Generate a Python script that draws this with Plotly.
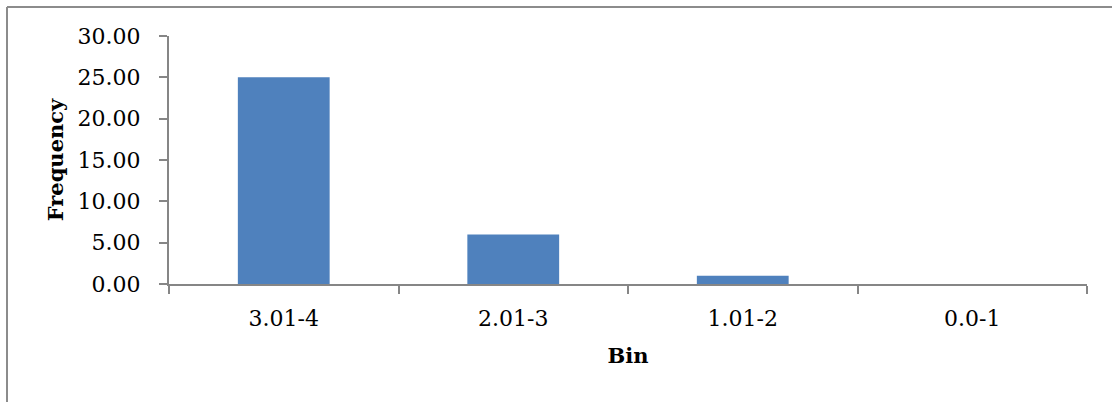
import plotly.graph_objects as go

# Frequency table
bins = ["3.01-4", "2.01-3", "1.01-2", "0.0-1"]
frequency = [25, 6, 1, 0]
y_ticks = [0, 5, 10, 15, 20, 25, 30]

W, H = 1112, 402
M_L, M_R, M_T, M_B = 169, 25, 36, 118
AXIS_GREY = "#868686"
FONT = "DejaVu Serif"


def px_to_paper(px, py):
    """Convert a page pixel position to paper coordinates of the plot area."""
    pw = W - M_L - M_R
    ph = H - M_T - M_B
    return (px - M_L) / pw, (H - M_B - py) / ph


fig = go.Figure(
    go.Bar(
        x=bins,
        y=frequency,
        marker=dict(color="#4F81BD", line=dict(width=0)),
    )
)

# Chart frame: top and left edges
x0, y0 = px_to_paper(7, 7)
x1, y1 = px_to_paper(W + 5, H + 5)
frame = dict(color="#8c8c8c", width=2)
fig.add_shape(type="line", xref="paper", yref="paper",
              x0=x0, y0=y0, x1=x1, y1=y0, line=frame)
fig.add_shape(type="line", xref="paper", yref="paper",
              x0=x0, y0=y0, x1=x0, y1=y1, line=frame)

fig.update_layout(
    width=W,
    height=H,
    autosize=False,
    margin=dict(l=M_L, r=M_R, t=M_T, b=M_B, pad=0),
    paper_bgcolor="white",
    plot_bgcolor="white",
    bargap=0.6,
    showlegend=False,
    font=dict(family=FONT, size=22, color="black"),
)

fig.update_xaxes(
    type="category",
    tickson="boundaries",
    ticks="outside",
    ticklen=8,
    tickwidth=2,
    tickcolor=AXIS_GREY,
    showline=True,
    linecolor=AXIS_GREY,
    linewidth=2,
    showgrid=False,
    zeroline=False,
    ticklabelstandoff=14,
    tickfont=dict(family=FONT, size=22, color="black"),
    title=dict(text="<b>Bin</b>", font=dict(family=FONT, size=21, color="black"),
               standoff=18),
)

fig.update_yaxes(
    range=[0, 30],
    tickmode="array",
    tickvals=y_ticks,
    tickformat=".2f",
    ticks="outside",
    ticklen=8,
    tickwidth=2,
    tickcolor=AXIS_GREY,
    showline=True,
    linecolor=AXIS_GREY,
    linewidth=2,
    showgrid=False,
    zeroline=False,
    ticklabelstandoff=14,
    tickfont=dict(family=FONT, size=22, color="black"),
    title=dict(text="<b>Frequency</b>", font=dict(family=FONT, size=21, color="black"),
               standoff=8),
)

fig.write_html("out.html")
